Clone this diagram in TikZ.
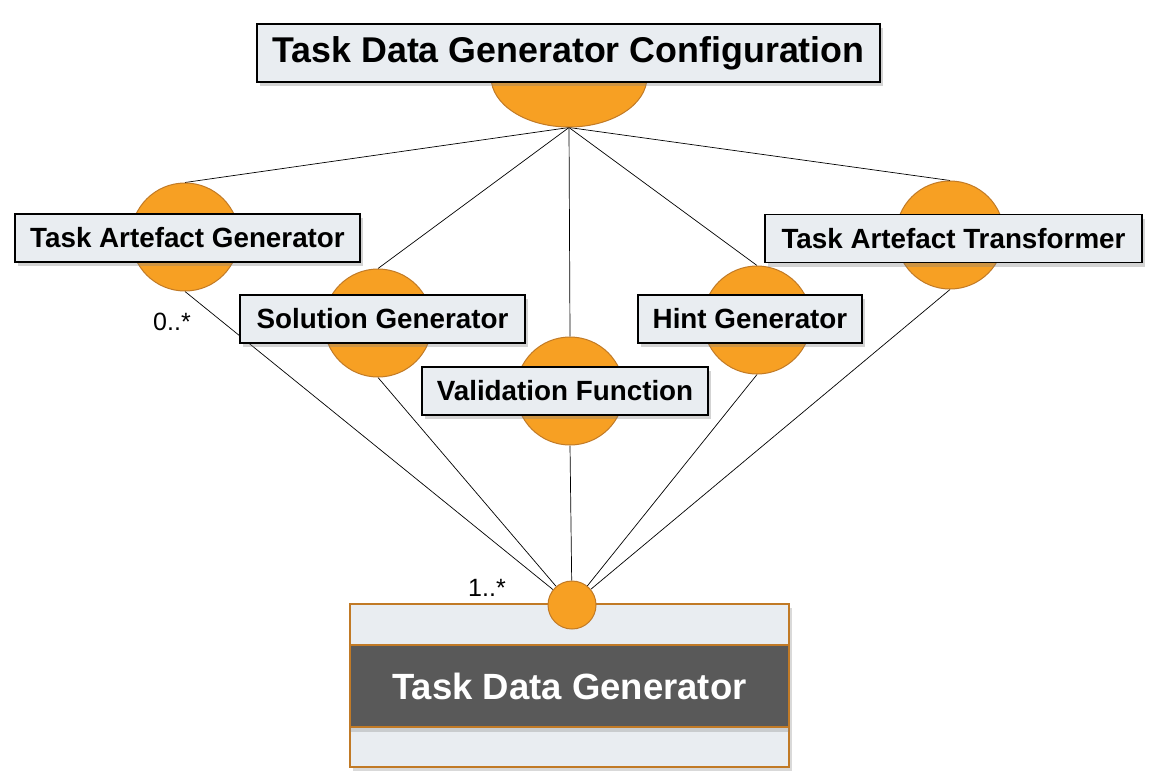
\documentclass[tikz,border=0pt]{standalone}
\usepackage{fontspec}
\setmainfont{Liberation Sans}
\usetikzlibrary{shadows,backgrounds,shapes.geometric}
\definecolor{portfill}{HTML}{F7A023}
\definecolor{portline}{HTML}{C17A26}
\definecolor{boxfill}{HTML}{E9EDF1}
\definecolor{bandfill}{HTML}{595959}
\tikzset{
	port/.style={circle, draw=portline, fill=portfill, line width=1pt, inner sep=0pt, minimum size=108pt},
	partbox/.style={draw=black, fill=boxfill, line width=1.6pt, inner sep=0pt, minimum height=48pt,
		font=\fontsize{27.8}{32}\selectfont\bfseries,
		drop shadow={shadow xshift=3pt, shadow yshift=-4pt, opacity=0.35}},
	wire/.style={draw=black, line width=0.7pt},
	mult/.style={font=\fontsize{25}{29}\selectfont, inner sep=0pt}
}
\begin{document}
\begin{tikzpicture}[x=1pt, y=-1pt]
		\useasboundingbox (0,0) rectangle (1155,782);
		
		% generator block
		\node[draw=portline, fill=boxfill, line width=1.4pt, minimum width=439pt, minimum height=163pt,
			drop shadow={shadow xshift=3pt, shadow yshift=-4pt, opacity=0.3}] (genBody) at (569.5,685.5) {};
		\node[draw=portline, fill=bandfill, line width=1.2pt, minimum width=439pt, minimum height=82pt, text=white,
			font=\fontsize{36.5}{42}\selectfont\bfseries,
			drop shadow={shadow xshift=0pt, shadow yshift=-5pt, opacity=0.3}] (genBand) at (569.5,686) {Task Data Generator};
		
		% ports
		\node[port, ellipse, minimum width=156pt, minimum height=100pt] (cfgP) at (569,77) {};
		\node[port] (artGenP) at (185,237) {};
		\node[port] (solGenP) at (378,323) {};
		\node[port] (valFunP) at (570,391) {};
		\node[port] (hintGenP) at (757,320) {};
		\node[port] (artTraP) at (950,235) {};
		\node[port, minimum size=48pt] (genP) at (572,605) {};
		
		% labels
		\node[partbox, minimum width=623pt, minimum height=58pt, font=\fontsize{35.8}{42}\selectfont\bfseries] (cfg) at (568.5,53) {Task Data Generator Configuration};
		\node[partbox, minimum width=345pt] (artGen) at (187.5,238) {Task Artefact Generator};
		\node[partbox, minimum width=285pt] (solGen) at (382.5,319) {Solution Generator};
		\node[partbox, minimum width=286pt] (valFun) at (565,391) {Validation Function};
		\node[partbox, minimum width=224pt] (hintGen) at (750,319) {Hint Generator};
		\node[partbox, minimum width=377pt] (artTra) at (953.5,238.5) {Task Artefact Transformer};
		
		\node[mult] (multLow) at (172,322) {0..*};
		\node[mult] (multHigh) at (487,588) {1..*};
		
		\begin{scope}[on background layer]
			\foreach \p in {artGenP, solGenP, valFunP, hintGenP, artTraP} {
				\draw[wire] (cfgP.south) -- (\p.north);
				\draw[wire] (\p.south) -- (genP);
			}
		\end{scope}
		\end{tikzpicture}
\end{document}
